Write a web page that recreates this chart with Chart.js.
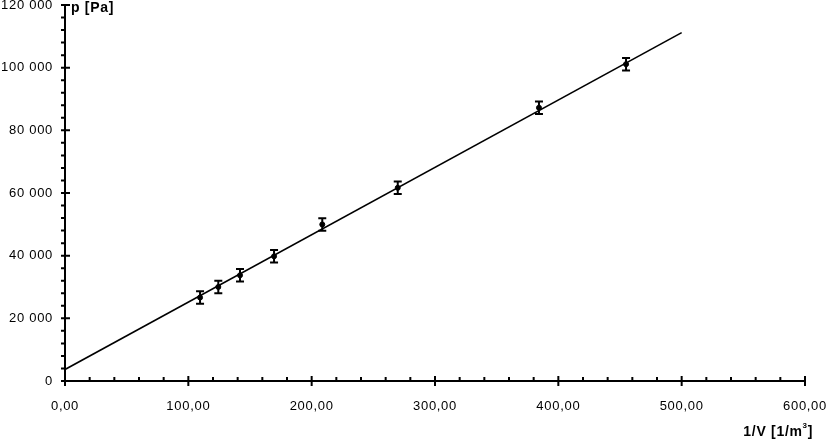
<!DOCTYPE html>
<html>
<head>
<meta charset="utf-8">
<script src="https://cdn.jsdelivr.net/npm/chart.js@4"></script>
<style>html, body { margin: 0; background: #fff; }</style>
</head>
<body>
<canvas id="chart" width="829" height="440"></canvas>
<script>
// Measured points: 1/V [1/m^3] vs p [Pa], with error on p
const invV = [109.5, 124.3, 141.9, 169.5, 208.6, 269.8, 384.3, 454.9];
const pressure = [26640, 30020, 33740, 39790, 49970, 61650, 87210, 101120];
const pErr = [2000, 2000, 2000, 2000, 2000, 2000, 2000, 2000];

// Linear fit endpoints
const fitX = [0, 500];
const fitY = [3660, 111180];

const xTicks = [0, 100, 200, 300, 400, 500, 600];
const yTicks = [0, 20000, 40000, 60000, 80000, 100000, 120000];
const xMinorStep = 20;
const yMinorStep = 4000;

const FONT = "'Liberation Sans', Arial, sans-serif";

const fmtX = v => v.toFixed(2).replace('.', ',');
const fmtY = v => String(v).replace(/\B(?=(\d{3})+(?!\d))/g, ' ');

// slightly spaced text like the original
const spacingPlugin = {
    id: 'spacing',
    beforeDraw(chart) { chart.ctx.letterSpacing = '0.7px'; }
};

// axes, ticks, error bars and titles
const axesPlugin = {
    id: 'axes',
    afterDatasetsDraw(chart) {
        const { ctx, chartArea: a, scales: { x, y } } = chart;
        ctx.save();
        ctx.strokeStyle = '#000';
        ctx.lineWidth = 2;

        // error bars
        invV.forEach((v, i) => {
            const px = x.getPixelForValue(v);
            const y1 = y.getPixelForValue(pressure[i] + pErr[i]);
            const y2 = y.getPixelForValue(pressure[i] - pErr[i]);
            ctx.beginPath();
            ctx.moveTo(px, y1); ctx.lineTo(px, y2);
            ctx.moveTo(px - 4, y1); ctx.lineTo(px + 4, y1);
            ctx.moveTo(px - 4, y2); ctx.lineTo(px + 4, y2);
            ctx.stroke();
        });

        // axis lines
        ctx.beginPath();
        ctx.moveTo(a.left, a.top); ctx.lineTo(a.left, a.bottom);
        ctx.lineTo(a.right, a.bottom);
        ctx.stroke();

        // x ticks
        ctx.beginPath();
        for (let v = 0; v <= 600; v += xMinorStep) {
            const px = x.getPixelForValue(v);
            if (v % 100 === 0) { ctx.moveTo(px, a.bottom - 5); ctx.lineTo(px, a.bottom + 5); }
            else { ctx.moveTo(px, a.bottom - 4); ctx.lineTo(px, a.bottom); }
        }
        // y ticks
        for (let v = 0; v <= 120000; v += yMinorStep) {
            const py = y.getPixelForValue(v);
            if (v % 20000 === 0) { ctx.moveTo(a.left - 4, py); ctx.lineTo(a.left + 5, py); }
            else { ctx.moveTo(a.left - 4, py); ctx.lineTo(a.left, py); }
        }
        ctx.stroke();

        // axis titles
        ctx.fillStyle = '#000';
        ctx.font = 'bold 14px ' + FONT;
        ctx.textBaseline = 'alphabetic';
        ctx.textAlign = 'left';
        ctx.fillText('p [Pa]', a.left + 6, 12);
        ctx.textAlign = 'right';
        ctx.fillText(']', 813, 436);
        const bw = ctx.measureText(']').width;
        ctx.fillText('1/V [1/m', 813 - bw - 5, 436);
        ctx.font = 'bold 8px ' + FONT;
        ctx.fillText('3', 813 - bw, 428);
        ctx.restore();
    }
};

new Chart(document.getElementById('chart'), {
    type: 'scatter',
    data: {
        datasets: [
            {
                label: 'fit',
                type: 'line',
                data: fitX.map((v, i) => ({ x: v, y: fitY[i] })),
                borderColor: '#000',
                borderWidth: 1.6,
                pointRadius: 0,
                fill: false,
            },
            {
                label: 'p',
                data: invV.map((v, i) => ({ x: v, y: pressure[i] })),
                backgroundColor: '#000',
                borderColor: '#000',
                pointRadius: 2.5,
            },
        ]
    },
    options: {
        responsive: false,
        animation: false,
        layout: { padding: { top: 5, right: 24, left: 0, bottom: 0 } },
        plugins: { legend: { display: false }, tooltip: { enabled: false } },
        scales: {
            x: {
                type: 'linear', min: 0, max: 600,
                border: { display: false },
                grid: { display: false, drawTicks: false },
                afterBuildTicks: s => { s.ticks = xTicks.map(v => ({ value: v })); },
                afterFit: s => { s.height = 59; s.paddingLeft = 0; s.paddingRight = 0; },
                ticks: { color: '#000', font: { family: FONT, size: 13 }, padding: 18, callback: v => fmtX(v), maxRotation: 0 },
            },
            y: {
                type: 'linear', min: 0, max: 120000,
                border: { display: false },
                grid: { display: false, drawTicks: false },
                afterBuildTicks: s => { s.ticks = yTicks.map(v => ({ value: v })); },
                afterFit: s => { s.width = 65; s.paddingTop = 0; s.paddingBottom = 0; },
                ticks: { color: '#000', font: { family: FONT, size: 13 }, padding: 12, callback: v => fmtY(v) },
            }
        }
    },
    plugins: [spacingPlugin, axesPlugin]
});
</script>
</body>
</html>
